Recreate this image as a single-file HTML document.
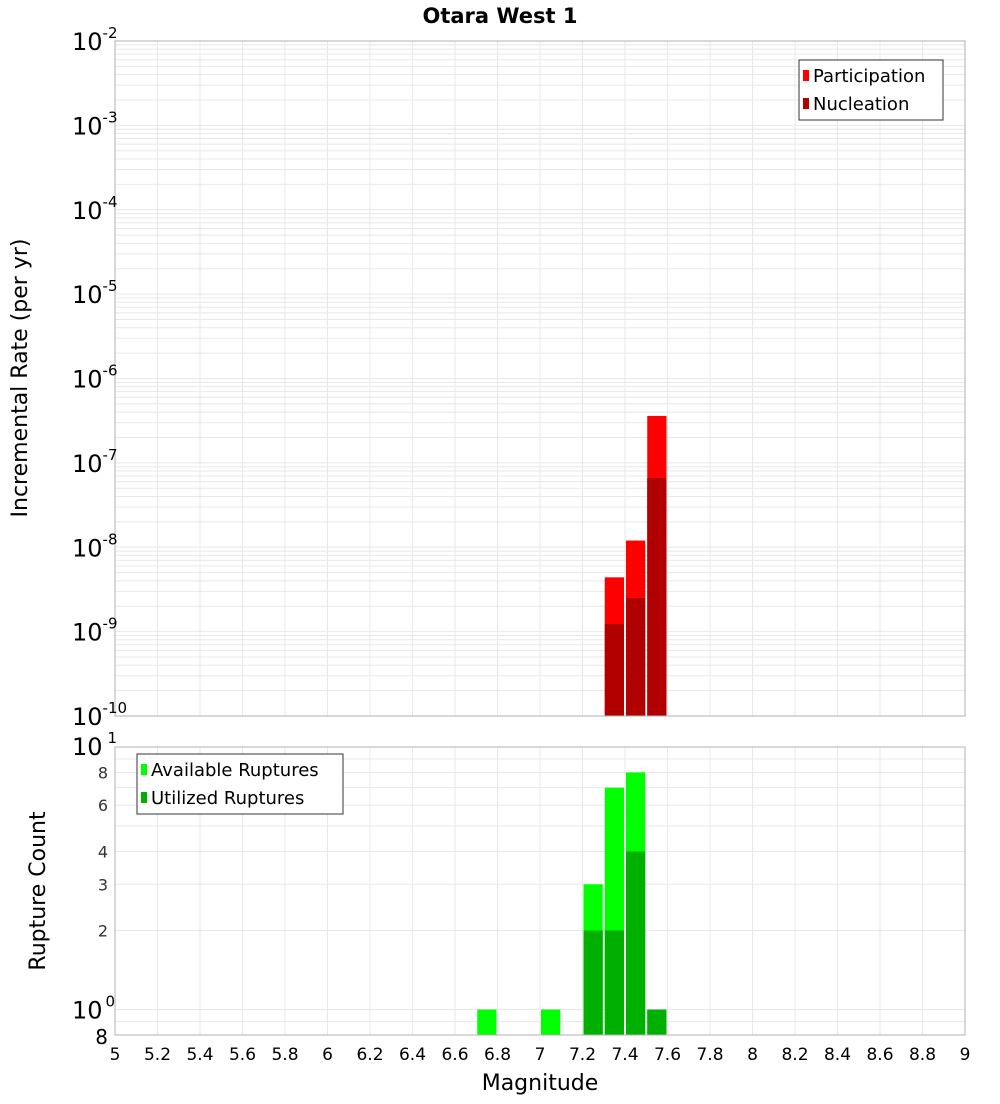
<!DOCTYPE html>
<html><head><meta charset="utf-8"><style>
body{margin:0;background:#fff;font-family:"DejaVu Sans","Liberation Sans",sans-serif}
svg text{font-family:"DejaVu Sans","Liberation Sans",sans-serif}
</style></head><body>
<svg id="c" width="1000" height="1100" xmlns="http://www.w3.org/2000/svg">
<text x="500" y="23" text-anchor="middle" font-size="21" font-weight="bold">Otara West 1</text>
</svg>
<script>
const bins=[7.35,7.45,7.55];
const participation=[4.4e-9,1.2e-8,3.6e-7];
const nucleation=[1.23e-9,2.5e-9,6.6e-8];
const countBins=[6.75,7.05,7.25,7.35,7.45,7.55];
const available=[1,1,3,7,8,1];
const utilized=[0,0,2,2,4,1];
const xTicks=[5,5.2,5.4,5.6,5.8,6,6.2,6.4,6.6,6.8,7,7.2,7.4,7.6,7.8,8,8.2,8.4,8.6,8.8,9];
const topExps=[-10,-9,-8,-7,-6,-5,-4,-3,-2];
const botTicks=[2,3,4,6,8];

const svg=document.getElementById('c');
const NS='http://www.w3.org/2000/svg';
function mk(tag,attrs,parent){const e=document.createElementNS(NS,tag);for(const k in attrs)e.setAttribute(k,attrs[k]);(parent||svg).appendChild(e);return e;}
const X0=115,X1=965;
const x=m=>X0+(m-5)/4*(X1-X0);
const T0=41,T1=716;
const yTop=v=>T1-(Math.log10(v)+10)/8*(T1-T0);
const B0=747,B1=1035;
const lmin=Math.log10(0.8),lmax=1;
const yBot=v=>B1-(Math.log10(v)-lmin)/(lmax-lmin)*(B1-B0);

// grids
const g=mk('g',{});


xTicks.forEach(t=>{[ [T0,T1],[B0,B1] ].forEach(r=>{mk('line',{x1:x(t),x2:x(t),y1:r[0],y2:r[1],stroke:'#e8e8e8','stroke-width':1},g);});});
for(let e=-10;e<-2;e++)for(let k=1;k<10;k++){const y=yTop(k*Math.pow(10,e));mk('line',{x1:X0,x2:X1,y1:y,y2:y,stroke:'#e8e8e8','stroke-width':1},g);}
[0.8,0.9,1,2,3,4,5,6,7,8,9,10].forEach(v=>{const y=yBot(v);mk('line',{x1:X0,x2:X1,y1:y,y2:y,stroke:'#e8e8e8','stroke-width':1},g);});

const bw=(X1-X0)/40;
// top bars
bins.forEach((b,i)=>{
 let r=mk('rect',{x:x(b)-bw/2+1,y:yTop(participation[i]),width:bw-2,height:T1-yTop(participation[i]),fill:'#ff0000'});
 
 
 r=mk('rect',{x:x(b)-bw/2+1,y:yTop(nucleation[i]),width:bw-2,height:T1-yTop(nucleation[i]),fill:'#b00000'});
 
 
});
// bottom bars
countBins.forEach((b,i)=>{
 let r=mk('rect',{x:x(b)-bw/2+1,y:yBot(available[i]),width:bw-2,height:B1-yBot(available[i]),fill:'#00ff00'});
 
 
 if(utilized[i]>0){
 r=mk('rect',{x:x(b)-bw/2+1,y:yBot(utilized[i]),width:bw-2,height:B1-yBot(utilized[i]),fill:'#00b000'});
 
 }
});
// frames
mk('rect',{x:X0,y:T0,width:X1-X0,height:T1-T0,fill:'none',stroke:'#b0b0b0'});
mk('rect',{x:X0,y:B0,width:X1-X0,height:B1-B0,fill:'none',stroke:'#b0b0b0'});

// top y ticks
topExps.forEach(e=>{
 const y=yTop(Math.pow(10,e));
 const t=mk('text',{x:72,y:y+9,'font-size':24});
 
 
 t.innerHTML='10<tspan dy="-12" font-size="15">'+e+'</tspan>';
});
// bottom y ticks
let t=mk('text',{x:72,y:B0+8,'font-size':24});


t.innerHTML='10<tspan dx="5" dy="-12" font-size="15">1</tspan>';
t=mk('text',{x:72,y:yBot(1)+9,'font-size':24});


t.innerHTML='10<tspan dx="3" dy="-12" font-size="15">0</tspan>';
botTicks.forEach(v=>{const tt=mk('text',{x:108,y:yBot(v)+6,'font-size':16,'text-anchor':'end',fill:'#333'});tt.textContent=v;
 
 });
t=mk('text',{x:108,y:B1+9,'font-size':20,'text-anchor':'end'});t.textContent='8';


// x ticks
xTicks.forEach(v=>{const tt=mk('text',{x:x(v),y:1060,'font-size':17,'text-anchor':'middle'});tt.textContent=String(v);
 
 });
// axis titles
t=mk('text',{x:540,y:1090,'font-size':22,'text-anchor':'middle'});t.textContent='Magnitude';


t=mk('text',{x:0,y:0,'font-size':22,'text-anchor':'middle',transform:'translate(27,378) rotate(-90)'});t.textContent='Incremental Rate (per yr)';


t=mk('text',{x:0,y:0,'font-size':22,'text-anchor':'middle',transform:'translate(45,891) rotate(-90)'});t.textContent='Rupture Count';



// legends
function legend(x0,y0,w,items,name){
 const lg=mk('g',{});
 
 
 mk('rect',{x:x0,y:y0,width:w,height:60,fill:'#fff',stroke:'#333'},lg);
 items.forEach((it,i)=>{
  mk('rect',{x:x0+4,y:y0+10+i*28,width:6,height:11,fill:it[1]},lg);
  const tx=mk('text',{x:x0+14,y:y0+22+i*28,'font-size':18},lg);tx.textContent=it[0];
 });
}
legend(799,60,144,[['Participation','#ff0000'],['Nucleation','#b00000']],'top-legend');
legend(137,754,206,[['Available Ruptures','#00ff00'],['Utilized Ruptures','#00b000']],'bottom-legend');
</script>
</body></html>
